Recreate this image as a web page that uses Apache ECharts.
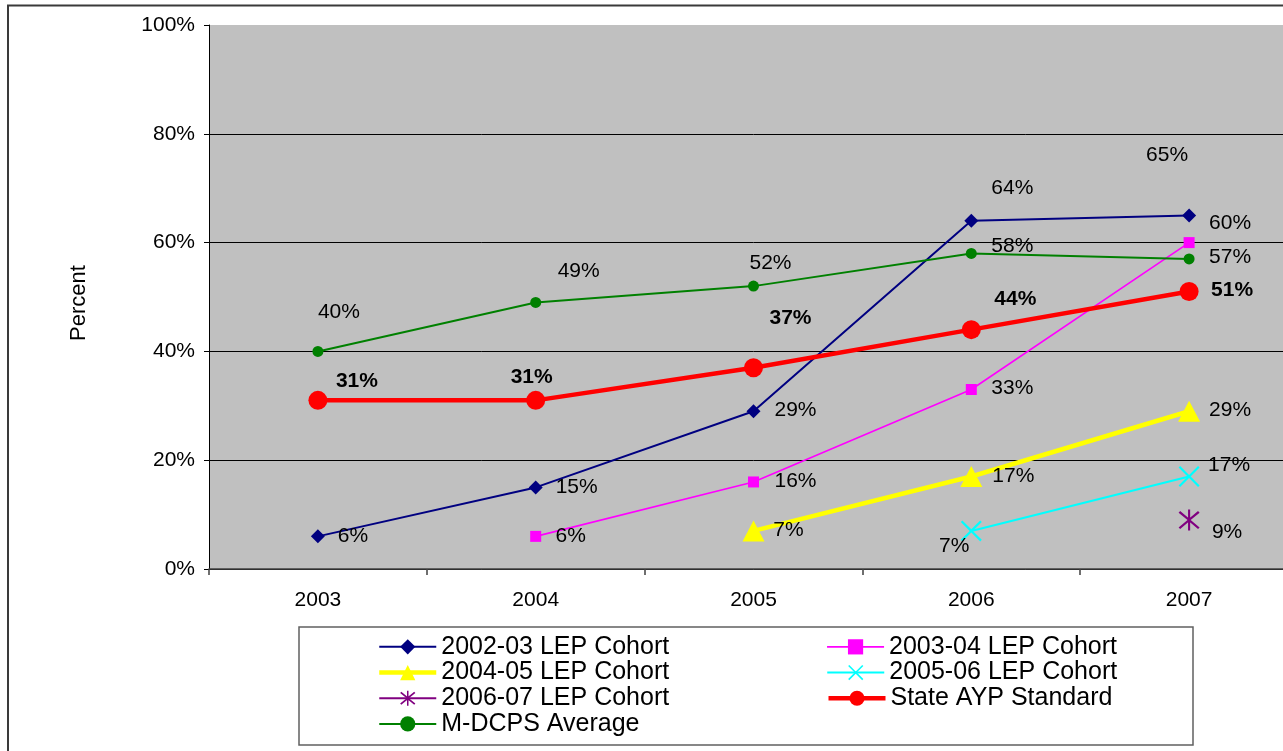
<!DOCTYPE html>
<html>
<head>
<meta charset="utf-8">
<script src="https://cdn.jsdelivr.net/npm/echarts@6/dist/echarts.min.js"></script>
<style>
html,body{margin:0;padding:0;background:#fff;overflow:hidden;width:1283px;height:751px;}
#chart{width:1298px;height:751px;}
</style>
</head>
<body>
<div id="chart"></div>
<script>
// ---- data ----
const years = ['2003', '2004', '2005', '2006', '2007'];
const cohort0203 = [6, 15, 29, 64, 65];
const cohort0304 = [null, 6, 16, 33, 60];
const cohort0405 = [null, null, 7, 17, 29];
const cohort0506 = [null, null, null, 7, 17];
const cohort0607 = [null, null, null, null, 9];
const stateAYP = [31, 31, 37, 44, 51];
const mdcpsAvg = [40, 49, 52, 58, 57];
const yTickValues = [0, 20, 40, 60, 80, 100];
const seriesNames = ['2002-03 LEP Cohort', '2003-04 LEP Cohort', '2004-05 LEP Cohort',
  '2005-06 LEP Cohort', '2006-07 LEP Cohort', 'State AYP Standard', 'M-DCPS Average'];

// ---- label placement (styling, offsets of label centre from point) ----
const labelOffsets = [
  [[35, 0], [41, 0], [42, -1], [41, -33], [-22, -60]],
  [null, [35, 0], [42, -1], [41, -1], [41, -19]],
  [null, null, [35, -1], [42, 0], [41, -1]],
  [null, null, null, [-17, 15], [40, -11]],
  [null, null, null, null, [38, 12]],
  [[39, -19], [-4, -23], [37, -50], [44, -30], [43, -1]],
  [[21, -39], [43, -31], [17, -23], [41, -7], [41, -2]]
];

const X_PATH = 'path://M0,1.5 L1.5,0 L10,8.5 L18.5,0 L20,1.5 L11.5,10 L20,18.5 L18.5,20 L10,11.5 L1.5,20 L0,18.5 L8.5,10 Z';
const STAR_PATH = 'path://M0,3 L1.5,1.5 L10,8.5 L18.5,1.5 L20,3 L11.5,10 L20,17 L18.5,18.5 L10,11.5 L1.5,18.5 L0,17 L8.5,10 Z M9,0 L11,0 L11,20 L9,20 Z';

const styles = [
  {color: '#000080', symbol: 'diamond', size: [14, 14], width: 2},
  {color: '#FF00FF', symbol: 'rect', size: 11, width: 1.6},
  {color: '#FFFF00', symbol: 'triangle', size: [22, 21], width: 4.5},
  {color: '#00FFFF', symbol: X_PATH, size: 21, width: 2},
  {color: '#800080', symbol: STAR_PATH, size: 21, width: 2},
  {color: '#FF0000', symbol: 'circle', size: 19, width: 4.5, bold: true},
  {color: '#008000', symbol: 'circle', size: 11, width: 2}
];
const allData = [cohort0203, cohort0304, cohort0405, cohort0506, cohort0607, stateAYP, mdcpsAvg];

const FONT = '"Liberation Sans", Arial, sans-serif';

const series = allData.map((arr, si) => {
  const st = styles[si];
  return {
    name: seriesNames[si],
    type: 'line',
    data: arr.map((v, i) => v == null ? '-' : {
      value: v,
      label: {offset: labelOffsets[si][i] || [0, 0]}
    }),
    symbol: st.symbol,
    symbolSize: st.size,
    showAllSymbol: true,
    connectNulls: false,
    itemStyle: {color: st.color},
    lineStyle: {color: st.color, width: st.width},
    emphasis: {disabled: true},
    label: {
      show: true,
      position: 'inside',
      formatter: '{c}%',
      color: '#000',
      textBorderWidth: 0,
      fontFamily: FONT,
      fontSize: 21,
      fontWeight: st.bold ? 'bold' : 'normal'
    },
    z: 3 + si
  };
});

const legendSymbolSizes = [13, 12, 18, 16, 17, 17, 13];
const legendData = seriesNames.map((n, i) => ({
  name: n,
  lineStyle: {width: styles[i].width, color: styles[i].color},
  itemStyle: {color: styles[i].color}
}));

const chart = echarts.init(document.getElementById('chart'), null, {renderer: 'canvas'});
chart.setOption({
  animation: false,
  backgroundColor: '#fff',
  textStyle: {fontFamily: FONT},
  grid: {
    left: 209, top: 25, bottom: 182, right: 0,
    show: true, backgroundColor: '#C0C0C0', borderWidth: 0,
    containLabel: false
  },
  xAxis: {
    type: 'category',
    data: years,
    boundaryGap: true,
    axisLine: {show: true, lineStyle: {color: '#404040', width: 1.5}},
    axisTick: {show: true, length: 6, lineStyle: {color: '#404040', width: 1.5}},
    axisLabel: {color: '#000', fontSize: 21, fontFamily: FONT, margin: 21},
    splitLine: {show: false}
  },
  yAxis: {
    type: 'value',
    min: yTickValues[0],
    max: yTickValues[yTickValues.length - 1],
    interval: yTickValues[1] - yTickValues[0],
    axisLine: {show: true, lineStyle: {color: '#000', width: 1}},
    axisTick: {show: true, length: 5, lineStyle: {color: '#000'}},
    axisLabel: {color: '#000', fontSize: 21, fontFamily: FONT, margin: 14, formatter: '{value}%'},
    splitLine: {show: true, showMaxLine: false, lineStyle: {color: '#000', width: 1}}
  },
  legend: {
    data: legendData,
    left: 377,
    top: 634,
    width: 900,
    orient: 'horizontal',
    itemGap: 0,
    itemWidth: 57,
    itemHeight: 19,
    padding: 0,
    selectedMode: false,
    textStyle: {
      color: '#000', fontSize: 25, fontFamily: FONT,
      width: 385, lineHeight: 25.7, padding: [0, 0, 0, 0]
    }
  },
  graphic: [
    {
      type: 'rect', silent: true, z: 100,
      shape: {x: 8, y: 5.5, width: 1400, height: 900},
      style: {fill: 'none', stroke: '#3a3a3a', lineWidth: 2}
    },
    {
      type: 'rect', silent: true, z: 1,
      shape: {x: 299, y: 627, width: 894, height: 118},
      style: {fill: '#fff', stroke: '#606060', lineWidth: 1.5}
    },
    {
      type: 'text', silent: true, z: 100,
      x: 79, y: 303, rotation: Math.PI / 2,
      style: {
        text: 'Percent', fill: '#000', font: '22px ' + FONT,
        textAlign: 'center', textVerticalAlign: 'middle'
      }
    }
  ],
  series: series
});
</script>
</body>
</html>
